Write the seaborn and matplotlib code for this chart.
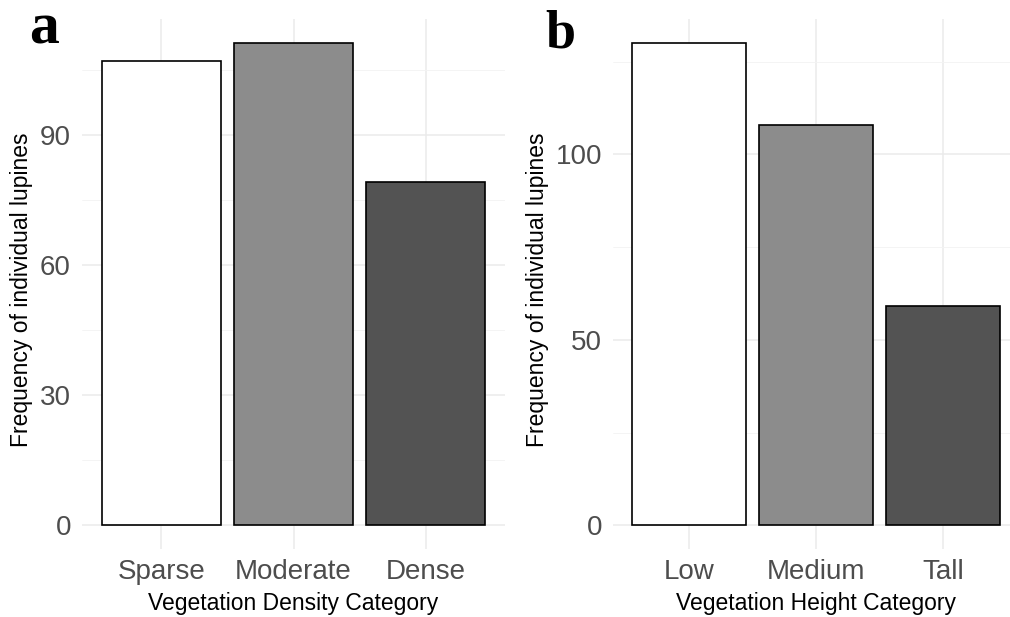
import pandas as pd
import seaborn as sns
import matplotlib.pyplot as plt
from matplotlib.ticker import MultipleLocator

# values
density_cats = ['Sparse', 'Moderate', 'Dense']
density_counts = [107, 111, 79]
height_cats = ['Low', 'Medium', 'Tall']
height_counts = [130, 108, 59]
bar_colors = ['#FFFFFF', '#8C8C8C', '#535353']

sns.set_theme(style='white')
plt.rcParams['font.family'] = ['Liberation Sans', 'DejaVu Sans']

W, H = 1010, 617
fig = plt.figure(figsize=(W / 100, H / 100), dpi=100)


def px_axes(left, right, top, bottom):
    return fig.add_axes([left / W, 1 - bottom / H, (right - left) / W, (bottom - top) / H])


def draw_panel(ax, cats, counts, major, minor, xlabel, ylab_x):
    df = pd.DataFrame({'cat': cats, 'n': counts})
    sns.barplot(data=df, x='cat', y='n', hue='cat', palette=bar_colors, order=cats,
                hue_order=cats, width=0.9, edgecolor='black', linewidth=1.2,
                legend=False, ax=ax, zorder=3)
    ymax = max(counts)
    ax.set_xlim(-0.6, 2.6)
    ax.set_ylim(-0.05 * ymax, 1.05 * ymax)
    ax.yaxis.set_major_locator(MultipleLocator(major))
    ax.yaxis.set_minor_locator(MultipleLocator(minor))
    ax.grid(True, which='major', color='#EBEBEB', linewidth=1.1, zorder=0)
    ax.grid(True, which='minor', axis='y', color='#F3F3F3', linewidth=0.6, zorder=0)
    ax.set_axisbelow(True)
    for s in ax.spines.values():
        s.set_visible(False)
    ax.tick_params(axis='both', which='both', length=0, labelsize=20, labelcolor='#4D4D4D')
    ax.tick_params(axis='x', pad=7)
    ax.tick_params(axis='y', pad=8)
    ax.set_xlabel(xlabel, fontsize=16.5, color='black')
    ax.set_ylabel('Frequency of individual lupines', fontsize=16.5, color='black')
    ax.xaxis.set_label_coords(0.5, -0.102)
    ax.xaxis.label.set_va('center')
    ax.yaxis.set_label_coords(ylab_x, 0.49)
    ax.yaxis.label.set_va('center')


ax1 = px_axes(82, 505, 19.4, 549.4)
draw_panel(ax1, density_cats, density_counts, 30, 15,
           'Vegetation Density Category', -0.142)

ax2 = px_axes(613, 1019, 18.9, 549.4)
draw_panel(ax2, height_cats, height_counts, 50, 25,
           'Vegetation Height Category', -0.186)

fig.text(29 / W, 1 - 43 / H, 'a', fontsize=43, fontweight='bold', color='black',
         family='Liberation Serif', ha='left', va='baseline')
fig.text(545 / W, 1 - 48 / H, 'b', fontsize=39, fontweight='bold', color='black',
         family='Liberation Serif', ha='left', va='baseline')

fig.savefig('out.png', dpi=100)
